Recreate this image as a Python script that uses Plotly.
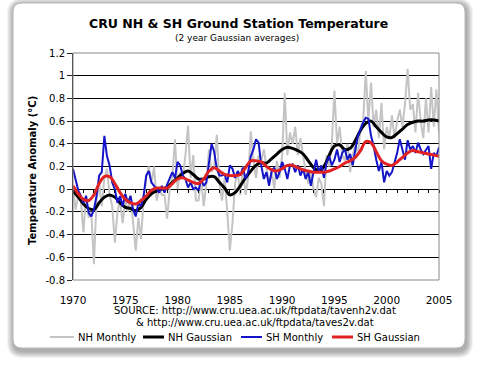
import plotly.graph_objects as go

# ---------------- data ----------------
# Monthly series sampled quarterly, 1970.00 ... 2005.00
nh_monthly = [
    0.00, -0.18, -0.05, -0.10,
    -0.38, -0.05, -0.25, -0.20,
    -0.66, -0.10, 0.05, -0.15,
    0.10, 0.18, -0.05, -0.15,
    -0.47, -0.20, -0.10, -0.30,
    -0.10, -0.20, -0.05, -0.30,
    -0.54, -0.25, -0.44, -0.10,
    0.10, 0.20, 0.05, 0.20,
    -0.10, 0.00, -0.05, -0.05,
    -0.26, 0.00, 0.10, 0.44,
    0.00, 0.15, 0.10, 0.30,
    0.56, 0.10, 0.30, -0.10,
    -0.10, 0.10, -0.15, 0.05,
    0.35, 0.15, 0.20, 0.48,
    0.05, -0.10, 0.10, -0.20,
    -0.54, -0.30, 0.05, 0.15,
    -0.05, 0.20, -0.05, 0.10,
    0.51, 0.25, 0.10, 0.30,
    0.25, 0.35, 0.20, 0.05,
    0.15, 0.00, 0.25, 0.10,
    0.30, 0.85, 0.30, 0.50,
    0.40, 0.55, 0.30, 0.45,
    0.30, 0.15, 0.05, 0.15,
    0.00, -0.07, 0.10, 0.05,
    -0.15, 0.30, 0.20, 0.40,
    0.87, 0.40, 0.55, 0.30,
    0.25, 0.40, 0.15, 0.30,
    0.40, 0.30, 0.55, 0.60,
    1.04, 0.60, 0.94, 0.55,
    0.70, 0.45, 0.76, 0.35,
    0.55, 0.45, 0.65, 0.45,
    0.60, 0.70, 0.55, 0.75,
    1.06, 0.70, 0.75, 0.50,
    0.85, 0.60, 0.45, 0.80,
    0.50, 0.90, 0.55, 0.88,
    0.50,
]

sh_monthly = [
    0.18, 0.09, -0.01, -0.06,
    -0.12, -0.06, -0.21, -0.24,
    -0.18, -0.06, 0.12, 0.15,
    0.47, 0.29, 0.21, 0.06,
    0.00, -0.12, -0.06, -0.15,
    -0.04, -0.12, -0.06, -0.18,
    -0.24, -0.12, -0.15, -0.06,
    0.12, 0.16, 0.06, 0.03,
    0.00, -0.03, 0.03, -0.03,
    0.04, 0.09, 0.15, 0.10,
    0.24, 0.21, 0.12, 0.09,
    0.015, 0.06, 0.00, 0.015,
    -0.015, 0.09, 0.03, 0.06,
    0.21, 0.40, 0.33, 0.18,
    0.12, 0.12, 0.13, 0.06,
    0.21, 0.18, 0.10, 0.16,
    0.12, 0.19, 0.09, 0.15,
    0.29, 0.35, 0.44, 0.41,
    0.21, 0.09, 0.15, 0.03,
    0.16, 0.19, 0.09, 0.15,
    0.24, 0.18, 0.09, 0.21,
    0.22, 0.15, 0.21, 0.12,
    0.18, 0.09, 0.15, 0.03,
    0.15, 0.26, 0.15, 0.21,
    0.10, 0.24, 0.29, 0.21,
    0.26, 0.35, 0.24, 0.32,
    0.35, 0.26, 0.31, 0.21,
    0.35, 0.47, 0.53, 0.59,
    0.63, 0.62, 0.47, 0.38,
    0.26, 0.16, 0.24, 0.06,
    0.16, 0.12, 0.15, 0.24,
    0.32, 0.44, 0.35, 0.26,
    0.43, 0.35, 0.38, 0.32,
    0.41, 0.35, 0.31, 0.35,
    0.38, 0.18, 0.32, 0.29,
    0.37,
]

# Gaussian (2-year) averages sampled every half year, 1970.0 ... 2005.0
nh_gaussian = [
    -0.015, -0.07, -0.13, -0.17, -0.18, -0.12, -0.07, -0.05, -0.07, -0.12,
    -0.16, -0.17, -0.19, -0.16, -0.09, -0.04, -0.015, 0.00, 0.02, 0.06,
    0.10, 0.14, 0.16, 0.13, 0.09, 0.09, 0.11, 0.11, 0.06, 0.01,
    -0.05, -0.03, 0.03, 0.10, 0.16, 0.21, 0.235, 0.23, 0.27, 0.31,
    0.35, 0.37, 0.36, 0.34, 0.31, 0.25, 0.19, 0.16, 0.20, 0.30,
    0.38, 0.39, 0.35, 0.36, 0.43, 0.52, 0.58, 0.60, 0.55, 0.50,
    0.46, 0.455, 0.49, 0.53, 0.57, 0.59, 0.60, 0.60, 0.61, 0.61,
    0.60,
]
sh_gaussian = [
    0.03, -0.04, -0.09, -0.10, -0.05, 0.05, 0.11, 0.11, 0.05, -0.03,
    -0.09, -0.12, -0.13, -0.10, -0.06, -0.01, 0.01, 0.01, 0.01, 0.05,
    0.09, 0.10, 0.08, 0.06, 0.05, 0.09, 0.16, 0.19, 0.16, 0.13,
    0.12, 0.12, 0.13, 0.19, 0.25, 0.25, 0.24, 0.20, 0.17, 0.16,
    0.18, 0.21, 0.21, 0.19, 0.17, 0.16, 0.15, 0.15, 0.15, 0.16,
    0.18, 0.20, 0.23, 0.25, 0.28, 0.34, 0.42, 0.41, 0.33, 0.25,
    0.22, 0.21, 0.24, 0.28, 0.32, 0.34, 0.33, 0.32, 0.31, 0.30,
    0.29,
]

START_YEAR = 1970
x_ticks = [1970, 1975, 1980, 1985, 1990, 1995, 2000, 2005]
y_ticks = [-0.8, -0.6, -0.4, -0.2, 0, 0.2, 0.4, 0.6, 0.8, 1.0, 1.2]
y_tick_text = ["-0.8", "-0.6", "-0.4", "-0.2", "0", "0.2", "0.4", "0.6", "0.8", "1", "1.2"]
series_names = ["NH Monthly", "NH Gaussian", "SH Monthly", "SH Gaussian"]

x_q = [START_YEAR + 0.25 * i for i in range(len(nh_monthly))]
x_q2 = [START_YEAR + 0.25 * i for i in range(len(sh_monthly))]
x_h = [START_YEAR + 0.5 * i for i in range(len(nh_gaussian))]
x_h2 = [START_YEAR + 0.5 * i for i in range(len(sh_gaussian))]

# ---------------- styling ----------------
W, H = 479, 370
ML, MR, MT, MB = 73, 40, 53, 90
PW, PH = W - ML - MR, H - MT - MB
FONT = "DejaVu Sans"
colors = {"NH Monthly": "#c4c4c4", "NH Gaussian": "#000000",
          "SH Monthly": "#1414c8", "SH Gaussian": "#e02222"}
widths = {"NH Monthly": 2, "NH Gaussian": 3, "SH Monthly": 2, "SH Gaussian": 3}


def px_x(p):
    return (p - ML) / PW


def px_y(p):
    return (H - MB - p) / PH


def rrect(x0, y0, x1, y1, r):
    """Rounded rectangle path in paper coords, given pixel box."""
    rx, ry = r / PW, r / PH
    a, b, c, d = px_x(x0), px_x(x1), px_y(y0), px_y(y1)  # c top, d bottom
    return (f"M{a+rx},{c} L{b-rx},{c} Q{b},{c} {b},{c-ry} L{b},{d+ry} "
            f"Q{b},{d} {b-rx},{d} L{a+rx},{d} Q{a},{d} {a},{d+ry} "
            f"L{a},{c-ry} Q{a},{c} {a+rx},{c} Z")


def note(text, x, y, size=10, xanchor="center", angle=0):
    return dict(text=text, x=px_x(x), y=px_y(y), xref="paper", yref="paper",
                xanchor=xanchor, yanchor="middle", textangle=angle, showarrow=False,
                font=dict(family=FONT, size=size, color="#000"))


fig = go.Figure()
traces = [
    ("NH Monthly", x_q, nh_monthly, "linear"),
    ("NH Gaussian", x_h, nh_gaussian, "spline"),
    ("SH Monthly", x_q2, sh_monthly, "linear"),
    ("SH Gaussian", x_h2, sh_gaussian, "spline"),
]
for name, xs, ys, shape in traces:
    fig.add_trace(go.Scatter(x=xs, y=ys, mode="lines", name=name,
                             line=dict(color=colors[name], width=widths[name], shape=shape),
                             showlegend=False))

shapes = []
# card shadow + card
for k in range(7, 0, -1):
    shapes.append(dict(type="path", xref="paper", yref="paper", layer="below",
                       path=rrect(13 - k + 1, 3 - k + 2, 465 + k + 1, 348 + k + 3, 9 + k),
                       fillcolor="rgba(0,0,0,0.05)", line=dict(width=0)))
shapes.append(dict(type="path", xref="paper", yref="paper", layer="below",
                   path=rrect(13, 3, 465, 348, 9),
                   fillcolor="white", line=dict(color="#b8b8b8", width=1)))
# plot frame
shapes.append(dict(type="rect", xref="paper", yref="paper", x0=0, x1=1, y0=0, y1=1,
                   line=dict(color="#888888", width=1), layer="above"))

annotations = [
    note("<b>CRU NH & SH Ground Station Temperature</b>", 238, 23, size=12.5),
    note("(2 year Gaussian averages)", 237, 38, size=9),
    note("<b>Temperature Anomaly (°C)</b>", 32, 171, size=10, angle=-90),
    note("SOURCE: http://www.cru.uea.ac.uk/ftpdata/tavenh2v.dat", 255, 310),
    note("& http://www.cru.uea.ac.uk/ftpdata/taves2v.dat", 255, 322),
]

# manual legend
leg_x = [(50, 74), (143, 164), (241, 262), (332, 353)]
leg_y = 337
for name, (a, b) in zip(series_names, leg_x):
    shapes.append(dict(type="line", xref="paper", yref="paper",
                       x0=px_x(a), x1=px_x(b), y0=px_y(leg_y), y1=px_y(leg_y),
                       line=dict(color=colors[name], width=widths[name])))
    annotations.append(note(name, b + 2, leg_y, xanchor="left"))

fig.update_layout(
    width=W, height=H,
    margin=dict(l=ML, r=MR, t=MT, b=MB, pad=0),
    paper_bgcolor="white", plot_bgcolor="white",
    font=dict(family=FONT, size=10, color="#000"),
    shapes=shapes, annotations=annotations,
    xaxis=dict(range=[1970, 2005], tickvals=x_ticks, ticktext=[str(v) for v in x_ticks],
               showgrid=False, zeroline=False, showline=False, ticks="",
               tickfont=dict(family=FONT, size=10.5), ticklabelstandoff=12),
    xaxis2=dict(range=[1970, 2005], overlaying="x", anchor="free", position=0.4,
                side="bottom", tickvals=list(range(1970, 2006)), ticks="outside",
                ticklen=3, tickcolor="#000", showticklabels=False, showgrid=False,
                zeroline=False, showline=False),
    yaxis=dict(range=[-0.8, 1.2], tickvals=y_ticks, ticktext=y_tick_text,
               showgrid=True, gridcolor="#000", gridwidth=1, zeroline=False,
               showline=True, linecolor="#222", linewidth=1,
               ticks="outside", ticklen=5, tickcolor="#222",
               tickfont=dict(family=FONT, size=10)),
)
# dummy invisible trace so xaxis2 renders
fig.add_trace(go.Scatter(x=[1970], y=[None], xaxis="x2", showlegend=False, hoverinfo="skip"))

fig.write_html("out.html", config={"displayModeBar": False},
               post_script="document.body.style.margin='0px';")
